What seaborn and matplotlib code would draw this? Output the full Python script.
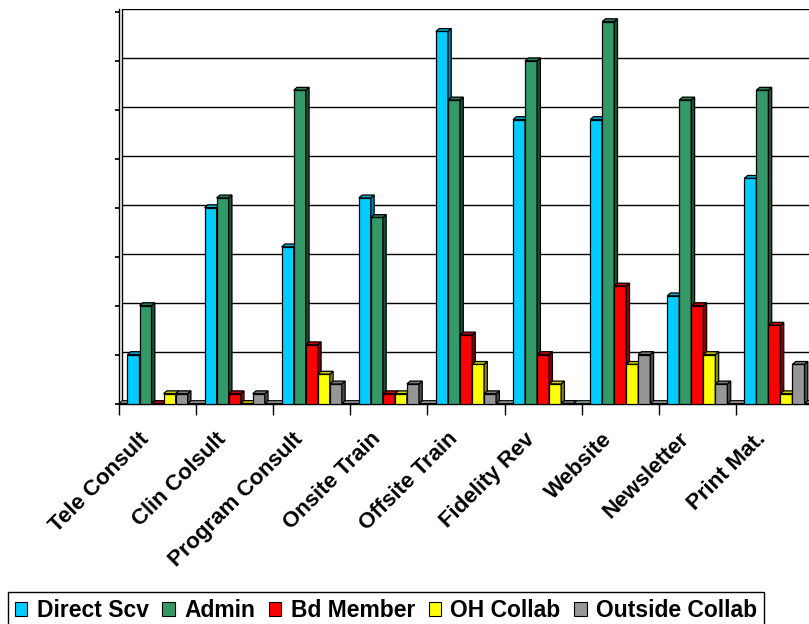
import numpy as np
import pandas as pd
import matplotlib
matplotlib.use("Agg")
import matplotlib.pyplot as plt
import matplotlib.transforms as mtransforms
from matplotlib.patches import Polygon
import seaborn as sns

categories = ["Tele Consult", "Clin Colsult", "Program Consult", "Onsite Train",
              "Offsite Train", "Fidelity Rev", "Website", "Newsletter", "Print Mat."]
series = ["Direct Scv", "Admin", "Bd Member", "OH Collab", "Outside Collab"]
direct_scv = [5, 20, 16, 21, 38, 29, 29, 11, 23]
admin = [10, 21, 32, 19, 31, 35, 39, 31, 32]
bd_member = [0, 1, 6, 1, 7, 5, 12, 10, 8]
oh_collab = [1, 0, 3, 1, 4, 2, 4, 5, 1]
outside_collab = [1, 1, 2, 2, 1, 0, 5, 2, 4]

front_colors = ["#00CCFF", "#339966", "#FF0000", "#FFFF00", "#969696"]
side_colors = ["#0086A8", "#1C5238", "#8A0000", "#8A8A00", "#4E4E4E"]
top_colors = ["#00A8D6", "#2A7D54", "#C80000", "#CCCC00", "#7A7A7A"]

values = [direct_scv, admin, bd_member, oh_collab, outside_collab]
rows = []
for s, vals in zip(series, values):
    for c, v in zip(categories, vals):
        rows.append({"Category": c, "Series": s, "Value": v})
df = pd.DataFrame(rows)

sns.set_theme(style="white")
plt.rcParams["font.family"] = ["Liberation Sans", "DejaVu Sans"]
plt.rcParams["text.color"] = "black"
plt.rcParams["xtick.color"] = "black"
plt.rcParams["ytick.color"] = "black"
plt.rcParams["axes.labelcolor"] = "black"

W, H = 809, 624
fig = plt.figure(figsize=(W / 100, H / 100), dpi=100)
ax_left, ax_right, ax_top, ax_bot = 119, 813, 9, 403.5
ax = fig.add_axes([ax_left / W, 1 - ax_bot / H, (ax_right - ax_left) / W, (ax_bot - ax_top) / H])

sns.barplot(data=df, x="Category", y="Value", hue="Series", order=categories,
            hue_order=series, palette=front_colors, saturation=1, width=0.78,
            edgecolor="black", linewidth=0.9, errorbar=None, ax=ax)

px_per_cat = (ax_right - ax_left) / 9.0
dx = 3.3 / px_per_cat
ytop = 40.0
dy = 0.29
ax.set_ylim(0, ytop + dy)
ax.set_xlim(-0.5, 8.5)

# 3D faces
for k, cont in enumerate(ax.containers):
    for p in cont.patches:
        x0, w, h = p.get_x(), p.get_width(), p.get_height()
        z = 3 + k
        p.set_zorder(z)
        side = Polygon([(x0 + w, 0), (x0 + w + dx, dy), (x0 + w + dx, h + dy), (x0 + w, h)],
                       closed=True, facecolor=side_colors[k], edgecolor="black",
                       linewidth=0.9, zorder=z)
        top = Polygon([(x0, h), (x0 + dx, h + dy), (x0 + w + dx, h + dy), (x0 + w, h)],
                      closed=True, facecolor=top_colors[k], edgecolor="black",
                      linewidth=0.9, zorder=z)
        ax.add_patch(side)
        ax.add_patch(top)

# floor
floor = Polygon([(-0.5, 0), (9.0, 0), (9.0 + dx, dy), (-0.5 + dx, dy)], closed=True,
                facecolor="#969696", edgecolor="black", linewidth=0.8, zorder=1)
ax.add_patch(floor)

# back-wall gridlines
for v in np.arange(5, 45, 5):
    ax.axhline(v + dy, xmin=dx / 9.0, xmax=1, color="black", linewidth=1.0, zorder=0.5)
ax.axvline(-0.5 + dx, ymin=dy / (ytop + dy), ymax=1, color="black", linewidth=1.0, zorder=0.5)

for s in ["top", "right"]:
    ax.spines[s].set_visible(False)
for s in ["left", "bottom"]:
    ax.spines[s].set_color("black")
    ax.spines[s].set_linewidth(1.0)

ax.set_yticks(np.arange(0, 45, 5))
ax.set_yticklabels([])
ax.tick_params(axis="y", which="major", length=3, color="black", direction="out", left=True)

ax.set_xticks(range(len(categories)))
ax.set_xticklabels(categories, rotation=45, ha="right", rotation_mode="anchor",
                   fontsize=16, fontweight="bold", color="black")
ax.set_xticks(np.arange(-0.5, 9.0, 1.0), minor=True)
ax.tick_params(axis="x", which="major", length=0, pad=18)
ax.tick_params(axis="x", which="minor", length=8, color="black", direction="out", bottom=True)
offset = mtransforms.ScaledTranslation(-19 / 100, 0, fig.dpi_scale_trans)
for lbl in ax.get_xticklabels():
    lbl.set_transform(lbl.get_transform() + offset)

ax.set_xlabel("")
ax.set_ylabel("")

sns.move_legend(ax, loc="upper left", bbox_to_anchor=(8 / W, 1 - 592 / H),
                bbox_transform=fig.transFigure, ncol=5, title=None, frameon=True,
                fancybox=False, framealpha=1, prop={"weight": "bold", "size": 16.5},
                handlelength=0.55, handleheight=0.55, handletextpad=0.4,
                columnspacing=0.6, borderpad=0.3, borderaxespad=0, labelcolor="black")
leg = ax.get_legend()
leg.get_frame().set_edgecolor("black")
leg.get_frame().set_linewidth(1.0)
for h in leg.legend_handles:
    h.set_edgecolor("black")
    h.set_linewidth(0.8)

fig.savefig("out.png", dpi=100)
